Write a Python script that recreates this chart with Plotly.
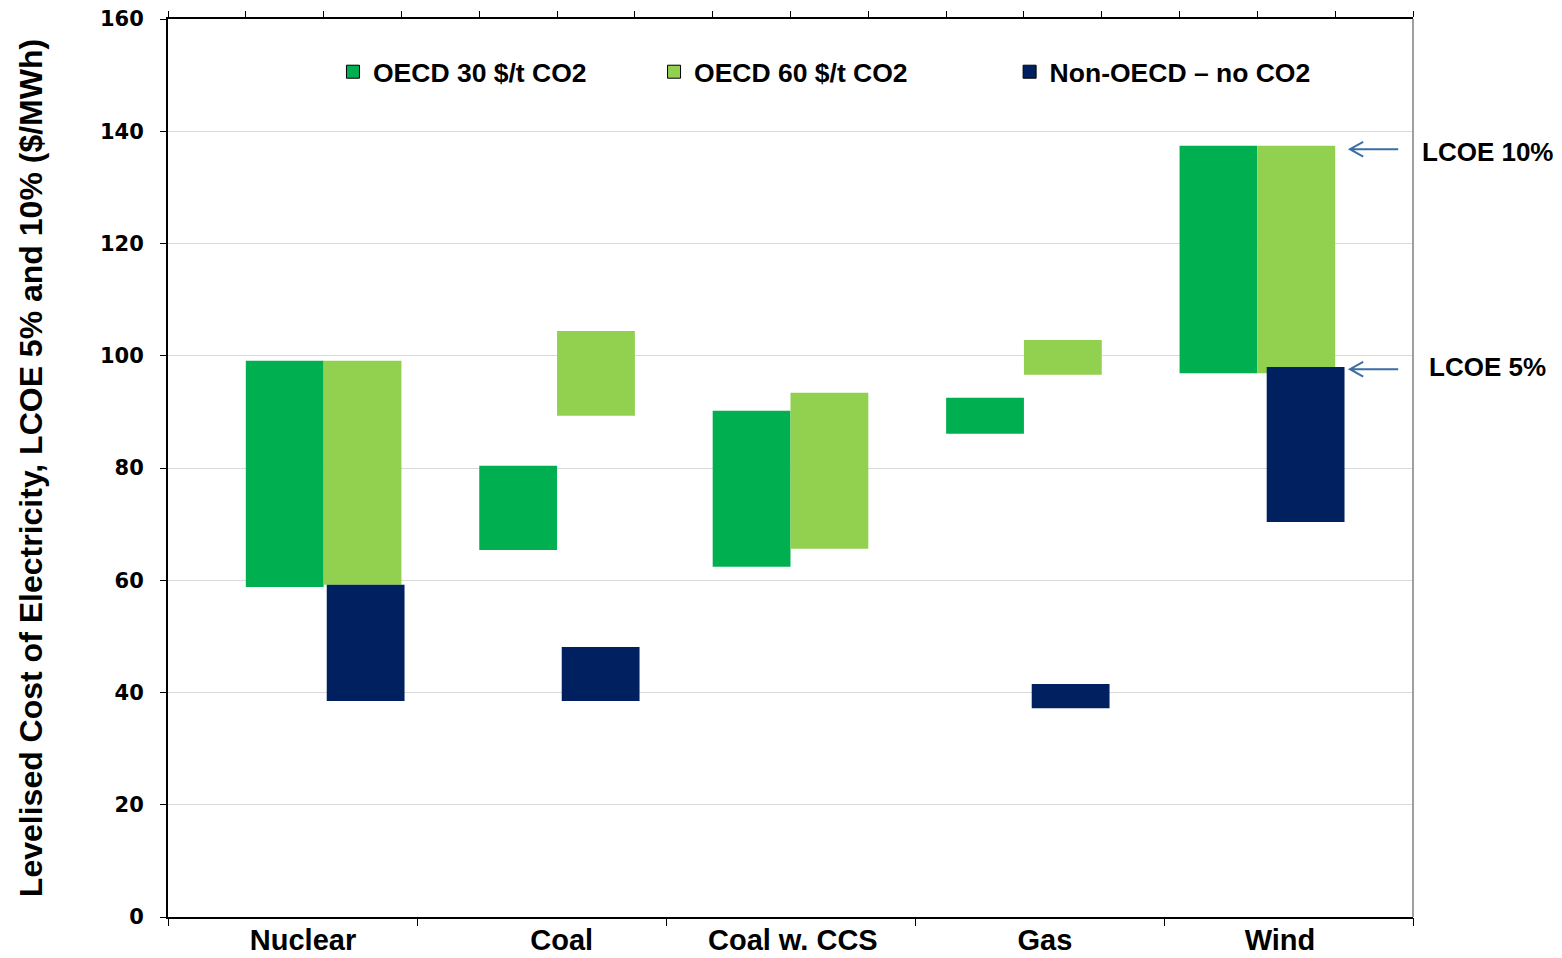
import plotly.graph_objects as go

# Technologies and cost ranges ($/MWh): low end = LCOE 5%, high end = LCOE 10%
categories = ["Nuclear", "Coal", "Coal w. CCS", "Gas", "Wind"]

oecd30_low = [58.8, 65.4, 62.4, 86.1, 96.9]
oecd30_high = [99.1, 80.4, 90.2, 92.5, 137.4]

oecd60_low = [59.2, 89.3, 65.6, 96.6, 96.9]
oecd60_high = [99.1, 104.4, 93.4, 102.8, 137.4]

nonoecd_low = [38.5, 38.5, None, 37.2, 70.4]
nonoecd_high = [59.2, 48.1, None, 41.5, 98.0]

y_ticks = [0, 20, 40, 60, 80, 100, 120, 140, 160]

series_names = ["OECD 30 $/t CO2", "OECD 60 $/t CO2", "Non-OECD \u2013 no CO2"]
colors = ["#00AF50", "#92D050", "#002060"]

SANS = "Liberation Sans, Arial, sans-serif"
WIDE = "DejaVu Sans, Verdana, sans-serif"

n = len(categories)
SLOTS = 16                 # fine slot grid along the top axis
CAT_W = SLOTS / n          # width of each category on the bottom axis

x_green = [3 * i + 1.5 for i in range(n)]
x_light = [3 * i + 2.5 for i in range(n)]
x_navy = [3 * i + 2.5 + 0.04 + 0.02 * i for i in range(n)]

# category label anchors along the bottom axis (slot units)
label_pos = [1.735, 5.06, 8.03, 11.27, 14.29]


def spans(lo, hi):
    return [None if a is None else b - a for a, b in zip(lo, hi)]


fig = go.Figure()

fig.add_trace(go.Bar(x=x_green, y=spans(oecd30_low, oecd30_high), base=oecd30_low,
                     width=1, marker=dict(color=colors[0], line=dict(width=0)),
                     showlegend=False, hoverinfo="skip"))
fig.add_trace(go.Bar(x=x_light, y=spans(oecd60_low, oecd60_high), base=oecd60_low,
                     width=1, marker=dict(color=colors[1], line=dict(width=0)),
                     showlegend=False, hoverinfo="skip"))
fig.add_trace(go.Bar(x=x_navy, y=spans(nonoecd_low, nonoecd_high), base=nonoecd_low,
                     width=1, marker=dict(color=colors[2], line=dict(width=0)),
                     showlegend=False, hoverinfo="skip"))

# Legend entries (square swatches with a dark outline), one legend box each
legend_ids = ["legend", "legend2", "legend3"]
for name, col, lg in zip(series_names, colors, legend_ids):
    fig.add_trace(go.Scatter(x=[None], y=[None], mode="markers", name=name,
                             marker=dict(symbol="square", size=13, color=col,
                                         line=dict(color="#000000", width=1)),
                             legend=lg, showlegend=True))

# Empty traces so the auxiliary tick axes are drawn
fig.add_trace(go.Scatter(x=[None], y=[None], xaxis="x2", yaxis="y", showlegend=False))
fig.add_trace(go.Scatter(x=[None], y=[None], xaxis="x3", yaxis="y", showlegend=False))

legend_common = dict(orientation="h", yanchor="middle", xanchor="left",
                     bgcolor="rgba(0,0,0,0)", borderwidth=0,
                     font=dict(family=SANS, size=26.5, color="#000000", weight="bold"),
                     itemclick=False, itemdoubleclick=False)

fig.update_layout(
    width=1562, height=958,
    margin=dict(l=168, r=149, t=19, b=41, autoexpand=False),
    paper_bgcolor="#FFFFFF", plot_bgcolor="#FFFFFF",
    barmode="overlay",
    legend=dict(x=0.1325, y=0.941, **legend_common),
    legend2=dict(x=0.3904, y=0.941, **legend_common),
    legend3=dict(x=0.676, y=0.941, **legend_common),
    xaxis=dict(range=[0, SLOTS], tickmode="array", automargin=False,
               tickvals=label_pos, ticktext=categories,
               ticks="", showgrid=False, zeroline=False, ticklabelstandoff=-4,
               showline=True, linecolor="#000000", linewidth=2,
               tickfont=dict(family=SANS, size=29, color="#000000", weight="bold")),
    xaxis2=dict(range=[0, SLOTS], overlaying="x", side="top", anchor="y", automargin=False,
                tickmode="array", tickvals=list(range(SLOTS + 1)),
                ticks="outside", ticklen=6, tickwidth=1, tickcolor="#000000",
                showticklabels=False, showgrid=False, zeroline=False,
                showline=True, linecolor="#000000", linewidth=2),
    xaxis3=dict(range=[0, SLOTS], overlaying="x", side="bottom", anchor="y", automargin=False,
                tickmode="array", tickvals=[CAT_W * i for i in range(n + 1)],
                ticks="outside", ticklen=8, tickwidth=1, tickcolor="#000000",
                showticklabels=False, showgrid=False, zeroline=False, showline=False),
    yaxis=dict(range=[0, 160], tickmode="array", tickvals=y_ticks, automargin=False,
               ticks="outside", ticklen=6, tickwidth=1, tickcolor="#000000",
               ticklabelstandoff=12,
               showgrid=True, gridcolor="#D9D9D9", gridwidth=1, zeroline=False,
               showline=True, linecolor="#000000", linewidth=2,
               tickfont=dict(family=WIDE, size=21, color="#000000", weight="bold"),
               title=dict(text="Levelised Cost of Electricity, LCOE 5% and 10% ($/MWh)",
                          font=dict(family=SANS, size=32, color="#000000", weight="bold"),
                          standoff=48)),
    showlegend=True,
)

# Right-hand frame edge
fig.add_shape(type="line", xref="paper", yref="paper", x0=1, x1=1, y0=0, y1=1,
              line=dict(color="#808080", width=1.5))

# LCOE markers with open arrowheads pointing at the wind bar
arrow_col = "#3A6EA5"
for yv, ytxt, label in [(136.8, 136.3, "LCOE 10%"), (97.6, 98.0, "LCOE 5%")]:
    fig.add_shape(type="path", xref="x", yref="y",
                  path=f"M 15.81,{yv} L 15.19,{yv} M 15.36,{yv + 1.3} L 15.19,{yv} L 15.36,{yv - 1.3}",
                  line=dict(color=arrow_col, width=2))
    fig.add_annotation(x=1.06, xref="paper", y=ytxt, yref="y", text=label,
                       showarrow=False, xanchor="center", yanchor="middle",
                       font=dict(family=SANS, size=26, color="#000000", weight="bold"))

fig.write_html("out.html")
